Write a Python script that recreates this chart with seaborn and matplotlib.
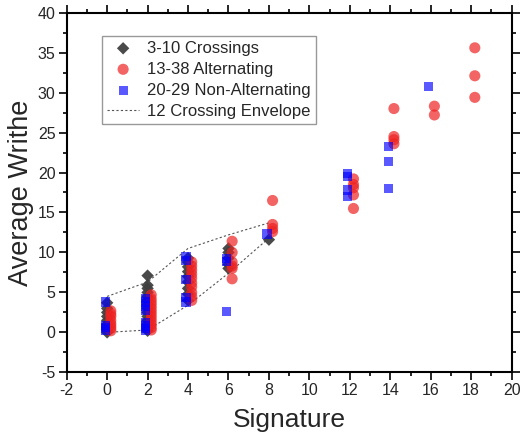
import matplotlib
matplotlib.use("Agg")
import matplotlib.pyplot as plt
import seaborn as sns
import pandas as pd
import numpy as np
from matplotlib.ticker import MultipleLocator

sns.set_theme(style="ticks")
plt.rcParams['font.family'] = ['Liberation Sans', 'DejaVu Sans']
plt.rcParams['axes.unicode_minus'] = False

# 3-10 crossings (black diamonds)
sig_small = [0]*9 + [2]*14 + [4]*9 + [6]*5 + [8]
wr_small = [0.0, 0.3, 0.6, 1.0, 1.5, 2.0, 2.5, 3.0, 3.7,
            0.2, 0.5, 1.0, 1.5, 2.0, 2.5, 3.0, 3.5, 4.0, 4.5, 5.0, 5.5, 5.9, 7.1,
            4.0, 4.8, 5.5, 6.3, 7.0, 7.6, 8.2, 8.8, 9.3,
            8.0, 8.5, 9.3, 10.0, 10.5,
            11.6]

# 13-38 alternating (red circles)
sig_alt = [0]*8 + [2]*12 + [4]*10 + [6]*6 + [8]*4 + [12]*5 + [14]*4 + [16]*2 + [18]*3
wr_alt = [0.2, 0.5, 0.8, 1.1, 1.5, 2.0, 2.3, 2.7,
          0.3, 0.6, 1.0, 1.4, 1.8, 2.2, 2.6, 3.0, 3.4, 3.8, 4.2, 4.7,
          4.0, 4.5, 5.0, 5.7, 6.2, 6.8, 7.3, 7.8, 8.3, 8.8,
          11.4, 10.0, 8.8, 8.3, 8.0, 6.7,
          16.5, 13.5, 13.0, 12.6,
          19.2, 18.5, 18.1, 17.2, 15.5,
          28.0, 24.5, 24.1, 23.6,
          28.3, 27.2,
          35.6, 32.1, 29.4]

# 20-29 non-alternating (blue squares)
sig_nonalt = [0]*4 + [2]*8 + [4]*5 + [6]*3 + [8] + [12]*4 + [14]*3 + [16]
wr_nonalt = [0.3, 0.6, 0.9, 3.8,
             0.2, 0.5, 0.8, 1.2, 2.8, 3.3, 3.8, 4.2,
             9.5, 9.0, 6.6, 4.4, 3.8,
             9.2, 8.9, 2.6,
             12.3,
             19.9, 19.5, 17.8, 17.0,
             23.3, 21.4, 18.0,
             30.8]

# 12 crossing envelope
env_sig = [0, 2, 4, 6, 8]
env_upper = [4.5, 6.3, 10.5, 12.2, 13.7]
env_lower = [0.0, 0.3, 3.4, 7.4, 11.8]

df_small = pd.DataFrame({"Signature": np.array(sig_small, float), "Writhe": wr_small})
df_alt = pd.DataFrame({"Signature": np.array(sig_alt, float) + 0.18, "Writhe": wr_alt})
df_non = pd.DataFrame({"Signature": np.array(sig_nonalt, float) - 0.1, "Writhe": wr_nonalt})
df_up = pd.DataFrame({"Signature": env_sig, "Writhe": env_upper})
df_lo = pd.DataFrame({"Signature": env_sig, "Writhe": env_lower})

fig = plt.figure(figsize=(5.21, 4.36), dpi=100)
ax = fig.add_axes([0.128, 0.146, 0.854, 0.825])

sns.lineplot(data=df_up, x="Signature", y="Writhe", ax=ax, color="#555555",
             lw=0.8, linestyle=(0, (2, 2)), sort=False, estimator=None,
             label="12 Crossing Envelope", zorder=1)
sns.lineplot(data=df_lo, x="Signature", y="Writhe", ax=ax, color="#555555",
             lw=0.8, linestyle=(0, (2, 2)), sort=False, estimator=None, zorder=1)
sns.scatterplot(data=df_small, x="Signature", y="Writhe", ax=ax, marker="D",
                color="#404040", s=40, edgecolor="none", alpha=0.95,
                label="3-10 Crossings", zorder=2)
sns.scatterplot(data=df_alt, x="Signature", y="Writhe", ax=ax, marker="o",
                color="#ee2222", s=64, edgecolor="none", alpha=0.7,
                label="13-38 Alternating", zorder=3)
sns.scatterplot(data=df_non, x="Signature", y="Writhe", ax=ax, marker="s",
                color="#0000ff", s=44, edgecolor="none", alpha=0.65,
                label="20-29 Non-Alternating", zorder=4)

ax.set_xlim(-2, 20)
ax.set_ylim(-5, 40)
ax.xaxis.set_major_locator(MultipleLocator(2))
ax.xaxis.set_minor_locator(MultipleLocator(1))
ax.yaxis.set_major_locator(MultipleLocator(5))
ax.yaxis.set_minor_locator(MultipleLocator(2.5))
ax.tick_params(which="both", direction="out", top=True, right=True,
               labeltop=False, labelright=False, width=1.2, color="black",
               labelsize=11.5, pad=2)
ax.tick_params(which="major", length=6)
ax.tick_params(which="minor", length=3)
for sp in ax.spines.values():
    sp.set_visible(True)
    sp.set_linewidth(1.5)
    sp.set_color("black")

ax.set_xlabel("Signature", fontsize=19, labelpad=7)
ax.set_ylabel("Average Writhe", fontsize=19.5, labelpad=3)

handles, labels = ax.get_legend_handles_labels()
order = ["3-10 Crossings", "13-38 Alternating", "20-29 Non-Alternating", "12 Crossing Envelope"]
hmap = dict(zip(labels, handles))
leg = ax.legend([hmap[l] for l in order], order, loc="upper left",
                bbox_to_anchor=(0.08, 0.936), fontsize=12, frameon=True,
                fancybox=False, edgecolor="#999999", framealpha=1,
                handlelength=1.9, handletextpad=0.5, borderpad=0.3,
                labelspacing=0.36, borderaxespad=0)
leg.get_frame().set_linewidth(1.0)

fig.savefig("out.png", dpi=100)
